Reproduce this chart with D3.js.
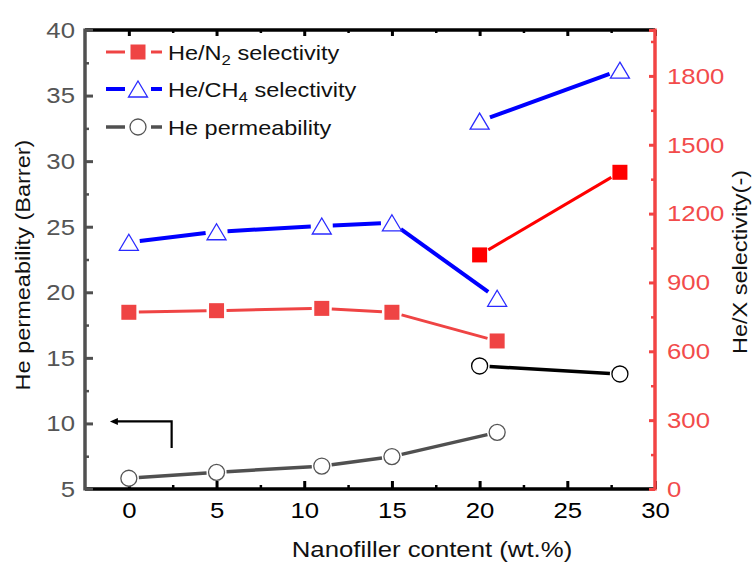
<!DOCTYPE html>
<html><head><meta charset="utf-8">
<script src="https://cdn.jsdelivr.net/npm/d3@7"></script>
<style>body{margin:0;background:#fff}svg{display:block;font-family:"Liberation Sans",Arial,sans-serif}</style>
</head><body><svg id="c" width="754" height="563"></svg>
<script>
// ---- data ----
const xSeg1 = [0, 5, 11, 15, 21];
const xSeg2 = [20, 28];
const heN2Seg1 = [770, 777, 787, 770, 645];
const heN2Seg2 = [1020, 1380];
const heCH4Seg1 = [1075, 1121, 1146, 1160, 831];
const heCH4Seg2 = [1603, 1825];
const hePermSeg1 = [5.82, 6.27, 6.75, 7.47, 9.32];
const hePermSeg2 = [14.38, 13.77];
const xTicks = [0, 5, 10, 15, 20, 25, 30];
const leftTicks = [5, 10, 15, 20, 25, 30, 35, 40];
const rightTicks = [0, 300, 600, 900, 1200, 1500, 1800];
const legendLabels = ["He/N2 selectivity", "He/CH4 selectivity", "He permeability"];

// ---- setup ----
const svg = d3.select("#c");
const L = 85, R = 655, T = 30, B = 489;
const K = 1.12; // horizontal stretch of the reference glyphs
const x = d3.scaleLinear().domain([-2.5, 30]).range([L, R]);
const yL = d3.scaleLinear().domain([5, 40]).range([B, T]);
const yR = d3.scaleLinear().domain([0, 2000]).range([B, T]);

const GREY = "#505050", RED_AX = "#f24444", N2C = "#ef4444", BLUE = "#0000ff";

function styleAxis(g, color, width) {
  g.select(".domain").remove();
  g.selectAll(".tick line").attr("stroke", color).attr("stroke-width", width);
}
function stretchTicks(g, size, fill) {
  g.selectAll("text").each(function () {
    const t = d3.select(this);
    const xv = +t.attr("x") || 0;
    t.attr("x", xv / K).attr("transform", `scale(${K},1)`)
      .attr("font-size", size).attr("fill", fill).attr("font-family", "Liberation Sans, Arial");
  });
}

// bottom axis
const minorX = d3.range(2.5, 30, 5);
svg.append("g").attr("transform", `translate(0,${B})`)
  .call(d3.axisBottom(x).tickValues(minorX).tickSize(-4).tickFormat(""))
  .call(g => styleAxis(g, "#000", 2.5));
svg.append("g").attr("transform", `translate(0,${B})`)
  .call(d3.axisBottom(x).tickValues(xTicks).tickSize(-8).tickPadding(13).tickFormat(d3.format("d")))
  .call(g => { styleAxis(g, "#000", 3); stretchTicks(g, 23, "#000"); });
// top axis
svg.append("g").attr("transform", `translate(0,${T})`)
  .call(d3.axisTop(x).tickValues(minorX).tickSize(-3).tickFormat(""))
  .call(g => styleAxis(g, "#000", 2.5));
svg.append("g").attr("transform", `translate(0,${T})`)
  .call(d3.axisTop(x).tickValues(xTicks).tickSize(-6).tickFormat(""))
  .call(g => styleAxis(g, "#000", 3));
svg.append("line").attr("x1", L).attr("x2", R).attr("y1", B).attr("y2", B).attr("stroke", "#000").attr("stroke-width", 3.5);
svg.append("line").attr("x1", L).attr("x2", R).attr("y1", T).attr("y2", T).attr("stroke", "#000").attr("stroke-width", 3.5);

// left axis
svg.append("g").attr("transform", `translate(${L},0)`)
  .call(d3.axisLeft(yL).tickValues(d3.range(7.5, 40, 5)).tickSize(-4).tickFormat(""))
  .call(g => styleAxis(g, GREY, 2.5));
svg.append("g").attr("transform", `translate(${L},0)`)
  .call(d3.axisLeft(yL).tickValues(leftTicks).tickSize(-8).tickPadding(10).tickFormat(d3.format("d")))
  .call(g => { styleAxis(g, GREY, 3); stretchTicks(g, 23, "#555"); });
svg.append("line").attr("x1", L).attr("x2", L).attr("y1", T - 1.5).attr("y2", B + 1.5).attr("stroke", GREY).attr("stroke-width", 3.5);

// right axis
svg.append("g").attr("transform", `translate(${R},0)`)
  .call(d3.axisRight(yR).tickValues(d3.range(150, 2000, 300)).tickSize(-4).tickFormat(""))
  .call(g => styleAxis(g, RED_AX, 2.5));
svg.append("g").attr("transform", `translate(${R},0)`)
  .call(d3.axisRight(yR).tickValues(rightTicks.concat([2000])).tickSize(-6).tickPadding(12).tickFormat(d => d === 2000 ? "" : d))
  .call(g => { styleAxis(g, RED_AX, 3); stretchTicks(g, 23, "#f24b4b"); });
svg.append("line").attr("x1", R).attr("x2", R).attr("y1", T - 1.5).attr("y2", B + 1.5).attr("stroke", RED_AX).attr("stroke-width", 3.5);

// axis titles (stretched along the reading direction)
svg.append("text").attr("transform", `translate(23,265) rotate(-90) scale(${K},1)`)
  .attr("text-anchor", "middle").attr("dominant-baseline", "central").attr("font-size", 21).attr("fill", "#111")
  .text("He permeability (Barrer)");
svg.append("text").attr("transform", `translate(740,262) rotate(-90) scale(${K},1)`)
  .attr("text-anchor", "middle").attr("dominant-baseline", "central").attr("font-size", 21).attr("fill", "#111")
  .text("He/X selectivity(-)");
svg.append("text").attr("transform", `translate(432,557) scale(${K},1)`).attr("text-anchor", "middle").attr("font-size", 23).attr("fill", "#111")
  .text("Nanofiller content (wt.%)");

// ---- series ----
function gapLines(pts, gap, color, width) {
  const g = svg.append("g");
  for (let i = 0; i < pts.length - 1; i++) {
    const [x1, y1] = pts[i], [x2, y2] = pts[i + 1];
    const dx = x2 - x1, dy = y2 - y1, len = Math.hypot(dx, dy);
    if (len <= 2 * gap) continue;
    const ux = dx / len, uy = dy / len;
    g.append("line").attr("x1", x1 + ux * gap).attr("y1", y1 + uy * gap)
      .attr("x2", x2 - ux * gap).attr("y2", y2 - uy * gap)
      .attr("stroke", color).attr("stroke-width", width);
  }
}
function square(g, cx, cy, color) {
  g.append("rect").attr("x", cx - 7.5).attr("y", cy - 7.5).attr("width", 15).attr("height", 15).attr("fill", color);
}
function triangle(g, cx, cy, color) {
  g.append("path").attr("d", `M${cx},${cy - 8} L${cx + 9.5},${cy + 8} L${cx - 9.5},${cy + 8} Z`)
    .attr("fill", "#fff").attr("stroke", color).attr("stroke-width", 1.3);
}
function circle(g, cx, cy, color) {
  g.append("circle").attr("cx", cx).attr("cy", cy).attr("r", 8).attr("fill", "#fff").attr("stroke", color).attr("stroke-width", 1.3);
}

function series(xs, ys, yScale, lineColor, markColor, width, gap, marker) {
  const pts = xs.map((d, i) => [x(d), yScale(ys[i])]);
  gapLines(pts, gap, lineColor, width);
  const g = svg.append("g");
  pts.forEach(p => marker(g, p[0], p[1], markColor));
}
series(xSeg1, heN2Seg1, yR, N2C, N2C, 3, 10, square);
series(xSeg2, heN2Seg2, yR, "#ff0000", "#ff0000", 3, 10, square);
series(xSeg1, heCH4Seg1, yR, BLUE, "#2a2aff", 4, 11, triangle);
series(xSeg2, heCH4Seg2, yR, BLUE, "#2a2aff", 4, 11, triangle);
series(xSeg1, hePermSeg1, yL, GREY, "#555", 3.5, 10, circle);
series(xSeg2, hePermSeg2, yL, "#000", "#000", 3.5, 10, circle);

// arrow annotation pointing to left axis
const ax = x(2.44), ay = yL(10.15), ab = yL(8.13), ae = x(-1.08);
svg.append("path").attr("d", `M${ax},${ab} L${ax},${ay} L${ae + 6},${ay}`).attr("fill", "none").attr("stroke", "#000").attr("stroke-width", 2.2);
svg.append("path").attr("d", `M${ae},${ay} L${ae + 8},${ay - 3.5} L${ae + 8},${ay + 3.5} Z`).attr("fill", "#000");

// ---- legend ----
const leg = svg.append("g");
const legY = [52, 89, 127];
const legStyles = [
  { c: N2C, w: 3, m: square },
  { c: BLUE, w: 4, m: triangle, mc: "#2a2aff" },
  { c: GREY, w: 3.5, m: circle, mc: "#555" }
];
legStyles.forEach((s, i) => {
  const y = legY[i];
  leg.append("line").attr("x1", 106).attr("x2", 125).attr("y1", y).attr("y2", y).attr("stroke", s.c).attr("stroke-width", s.w);
  leg.append("line").attr("x1", 151).attr("x2", 162).attr("y1", y).attr("y2", y).attr("stroke", s.c).attr("stroke-width", s.w);
  s.m(leg, 138, y, s.mc || s.c);
  const t = leg.append("text").attr("transform", `translate(168,${y + 7.5}) scale(${K},1)`).attr("font-size", 21).attr("fill", "#111");
  const lab = legendLabels[i];
  const m = lab.match(/^(He\/[A-Z]+)(\d)(.*)$/);
  if (m) {
    t.append("tspan").text(m[1]);
    t.append("tspan").attr("dy", 5).attr("font-size", 15).text(m[2]);
    t.append("tspan").attr("dy", -5).text(m[3]);
  } else t.text(lab);
});
</script></body></html>
